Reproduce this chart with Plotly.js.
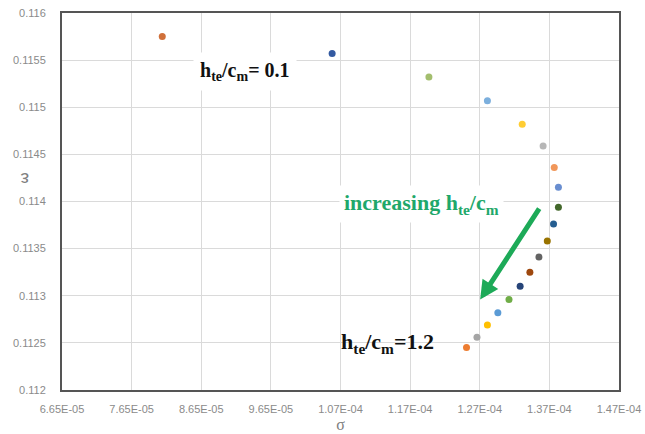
<!DOCTYPE html>
<html>
<head>
<meta charset="utf-8">
<script src="https://cdn.plot.ly/plotly-3.0.1.min.js"></script>
<style>html,body{margin:0;padding:0;background:#fff;}#chart{width:645px;height:434px;}</style>
</head>
<body>
<div id="chart"></div>
<script>
// h_te/c_m from 0.1 (top) to 1.2 (bottom)
const sigma = [8.09e-5, 1.053e-4, 1.192e-4, 1.276e-4, 1.326e-4, 1.356e-4, 1.372e-4, 1.378e-4, 1.378e-4, 1.371e-4,
               1.362e-4, 1.350e-4, 1.337e-4, 1.323e-4, 1.307e-4, 1.291e-4, 1.276e-4, 1.261e-4, 1.246e-4];
const epsilon = [0.11575, 0.11557, 0.11532, 0.11507, 0.11482, 0.11459, 0.11436, 0.11415, 0.11394, 0.11376,
                 0.11358, 0.11341, 0.11325, 0.11310, 0.11296, 0.11282, 0.11269, 0.11256, 0.11245];
const pointColors = ['#D0703A', '#335AA1', '#A3BE6E', '#7CAFDD', '#FFCD33', '#B7B7B7', '#F1975A', '#698ED0', '#43682B', '#255E91',
                     '#997300', '#636363', '#9E480E', '#264478', '#70AD47', '#5B9BD5', '#FFC000', '#A5A5A5', '#ED7D31'];
const xTickVals = [6.65e-5, 7.65e-5, 8.65e-5, 9.65e-5, 1.065e-4, 1.165e-4, 1.265e-4, 1.365e-4, 1.465e-4];
const xTickText = ['6.65E-05', '7.65E-05', '8.65E-05', '9.65E-05', '1.07E-04', '1.17E-04', '1.27E-04', '1.37E-04', '1.47E-04'];
const yTickVals = [0.112, 0.1125, 0.113, 0.1135, 0.114, 0.1145, 0.115, 0.1155, 0.116];
const yTickText = ['0.112', '0.1125', '0.113', '0.1135', '0.114', '0.1145', '0.115', '0.1155', '0.116'];

const tickFont = {family: 'Liberation Sans, Arial, sans-serif', size: 11, color: '#8a8a8a'};

const trace = {
  x: sigma, y: epsilon, type: 'scatter', mode: 'markers',
  marker: {size: 7, color: pointColors, line: {width: 0}},
  hoverinfo: 'x+y'
};

const layout = {
  width: 645, height: 434,
  margin: {l: 62, r: 26, t: 13, b: 44},
  paper_bgcolor: '#ffffff', plot_bgcolor: '#ffffff',
  showlegend: false,
  xaxis: {
    range: [6.65e-5, 1.465e-4], tickvals: xTickVals, ticktext: xTickText,
    showgrid: true, gridcolor: '#DADADA', gridwidth: 1, zeroline: false,
    showline: true, linecolor: '#555555', linewidth: 2, mirror: true,
    ticks: '', ticklabelstandoff: 8, tickfont: tickFont,
    title: {text: 'σ', font: {family: 'Liberation Serif, serif', size: 16, color: '#808080'}, standoff: 5}
  },
  yaxis: {
    range: [0.112, 0.116], tickvals: yTickVals, ticktext: yTickText,
    showgrid: true, gridcolor: '#DADADA', gridwidth: 1, zeroline: false,
    showline: true, linecolor: '#555555', linewidth: 2, mirror: true,
    ticks: '', ticklabelstandoff: 12, tickfont: tickFont
  },
  annotations: [
    {xref: 'paper', yref: 'paper', x: -0.079, y: 0.557, text: 'ε', textangle: 180, showarrow: false,
     font: {family: 'Liberation Sans, sans-serif', size: 19, color: '#808080'}},
    {xref: 'x', yref: 'y', x: 9.28e-5, y: 0.11538, text: '<b>h<sub>te</sub>/c<sub>m</sub>= 0.1</b>', showarrow: false,
     bgcolor: '#ffffff', borderpad: 6,
     font: {family: 'Liberation Serif, Times New Roman, serif', size: 20, color: '#111111'}},
    {xref: 'x', yref: 'y', x: 1.1808e-4, y: 0.11397, text: '<b>increasing h<sub>te</sub>/c<sub>m</sub></b>', showarrow: false,
     bgcolor: '#ffffff', borderpad: 4,
     font: {family: 'Liberation Serif, Times New Roman, serif', size: 22, color: '#1FA86B'}},
    {xref: 'x', yref: 'y', x: 1.132e-4, y: 0.11250, text: '<b>h<sub>te</sub>/c<sub>m</sub>=1.2</b>', showarrow: false,
     bgcolor: 'rgba(255,255,255,0)',
     font: {family: 'Liberation Serif, Times New Roman, serif', size: 22, color: '#111111'}},
    {xref: 'x', yref: 'y', axref: 'x', ayref: 'y', x: 1.2656e-4, y: 0.11296, ax: 1.3518e-4, ay: 0.11394,
     text: '', showarrow: true, arrowhead: 2, arrowsize: 0.75, arrowwidth: 5, arrowcolor: '#1DAA58'}
  ]
};

Plotly.newPlot('chart', [trace], layout, {displayModeBar: false, staticPlot: true});
</script>
</body>
</html>
